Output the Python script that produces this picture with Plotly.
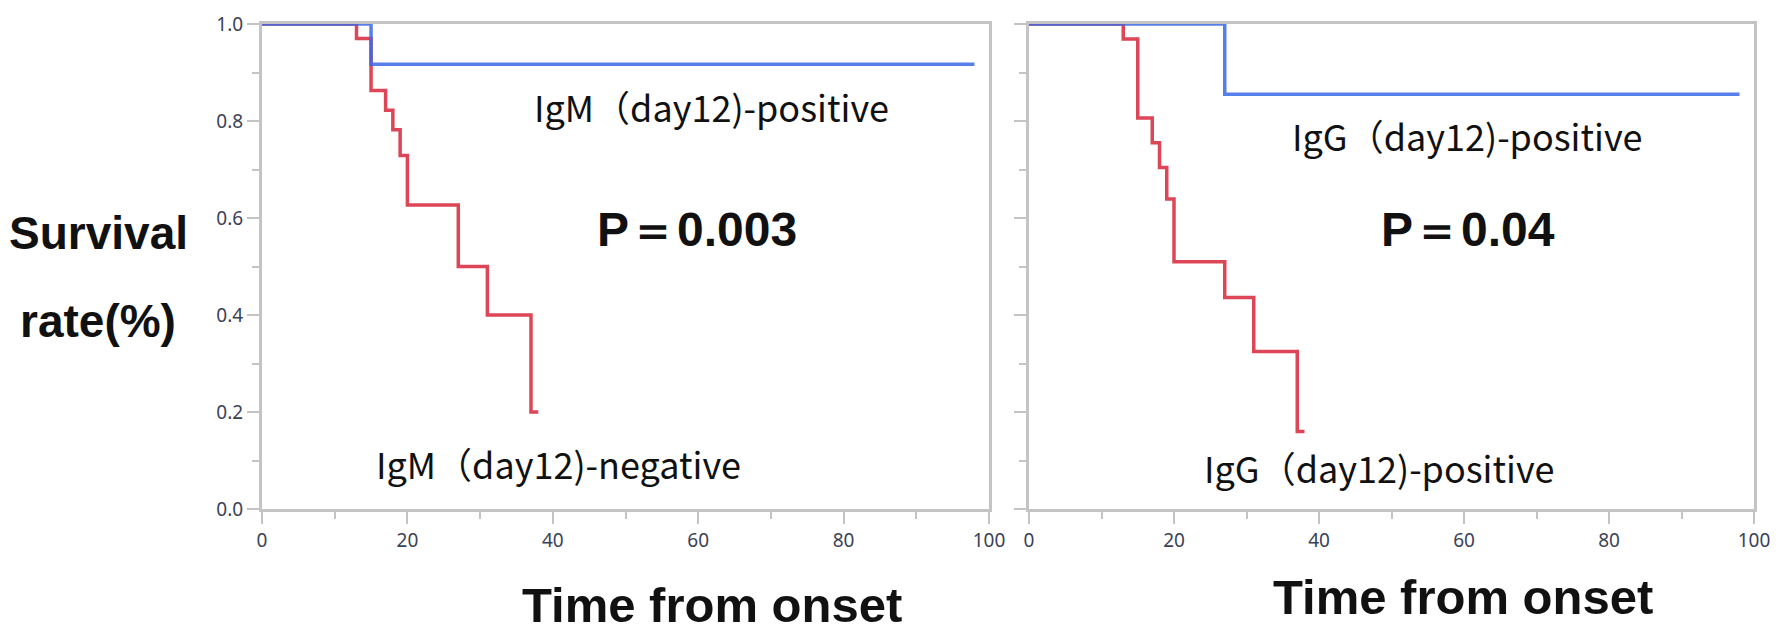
import plotly.graph_objects as go

W, H = 1782, 640
PAD = 8  # browser default body margin

# ---- data ----
igm_pos_t = [0, 15, 98]
igm_pos_s = [1.0, 0.917, 0.917]
igm_neg_t = [0, 13, 15, 17, 18, 19, 20, 27, 31, 37, 38]
igm_neg_s = [1.0, 0.970, 0.863, 0.822, 0.782, 0.729, 0.627, 0.500, 0.400, 0.200, 0.200]

igg_pos_t = [0, 27, 98]
igg_pos_s = [1.0, 0.855, 0.855]
igg_neg_t = [0, 13, 15, 17, 18, 19, 20, 27, 31, 37, 38]
igg_neg_s = [1.0, 0.969, 0.806, 0.755, 0.704, 0.639, 0.510, 0.436, 0.325, 0.160, 0.160]

x_ticks = [0, 20, 40, 60, 80, 100]
y_ticks = [0.0, 0.2, 0.4, 0.6, 0.8, 1.0]
y_ticklabels = ["0.0", "0.2", "0.4", "0.6", "0.8", "1.0"]

BLUE = "rgba(58,104,230,0.85)"
RED = "#dc4656"

FW, FH = W - 2 * PAD, H - 2 * PAD

def px(x):
    return (x - PAD) / FW

def py(y):
    return 1 - (y - PAD) / FH

fig = go.Figure()

fig.add_trace(go.Scatter(x=igm_neg_t, y=igm_neg_s, mode="lines", line=dict(color=RED, width=3.5, shape="hv"),
                         xaxis="x", yaxis="y", showlegend=False))
fig.add_trace(go.Scatter(x=igm_pos_t, y=igm_pos_s, mode="lines", line=dict(color=BLUE, width=3.5, shape="hv"),
                         xaxis="x", yaxis="y", showlegend=False))
fig.add_trace(go.Scatter(x=igg_neg_t, y=igg_neg_s, mode="lines", line=dict(color=RED, width=3.5, shape="hv"),
                         xaxis="x2", yaxis="y2", showlegend=False))
fig.add_trace(go.Scatter(x=igg_pos_t, y=igg_pos_s, mode="lines", line=dict(color=BLUE, width=3.5, shape="hv"),
                         xaxis="x2", yaxis="y2", showlegend=False))

tickfont = dict(family="Noto Sans", size=19, color="#3a4258")
AXC = "#c4c4c4"

def xaxis(domain, anchor):
    return dict(domain=domain, anchor=anchor, range=[0, 100], tickvals=x_ticks,
                ticks="outside", ticklen=12, tickwidth=2, tickcolor=AXC,
                showline=True, linecolor=AXC, linewidth=3, mirror=True,
                showgrid=False, zeroline=False, tickfont=tickfont, automargin=False,
                ticklabeloverflow="allow",
                minor=dict(dtick=10, ticks="outside", ticklen=7, tickwidth=2, tickcolor=AXC))

def yaxis(domain, anchor, labels):
    return dict(domain=domain, anchor=anchor, range=[0, 1], tickvals=y_ticks, ticktext=y_ticklabels,
                showticklabels=labels,
                ticks="outside", ticklen=12, tickwidth=2, tickcolor=AXC,
                showline=True, linecolor=AXC, linewidth=3, mirror=True,
                showgrid=False, zeroline=False, tickfont=tickfont, automargin=False,
                ticklabeloverflow="allow",
                minor=dict(dtick=0.1, ticks="outside", ticklen=7, tickwidth=2, tickcolor=AXC))

ydom = [py(509), py(24)]
fig.update_layout(
    width=FW, height=FH,
    margin=dict(l=0, r=0, t=0, b=0, autoexpand=False),
    paper_bgcolor="white", plot_bgcolor="white",
    xaxis=xaxis([px(262), px(989)], "y"),
    yaxis=yaxis(ydom, "x", True),
    xaxis2=xaxis([px(1029), px(1754)], "y2"),
    yaxis2=yaxis(ydom, "x2", False),
)

lab_font = dict(family="Noto Sans CJK JP", size=36, color="#111111")
big_font = dict(family="Liberation Sans", size=48, color="#111111")
title_font = dict(family="Liberation Sans", size=46, color="#111111")
axis_title_font = dict(family="Liberation Sans", size=49, color="#111111")

annots = [
    ("IgM（day12)-positive", 711, 106, lab_font),
    ("IgM（day12)-negative", 558, 463, lab_font),
    ("IgG（day12)-positive", 1467, 135, lab_font),
    ("IgG（day12)-positive", 1379, 467, lab_font),
    ("<b>P＝0.003</b>", 697, 229, big_font),
    ("<b>P＝0.04</b>", 1468, 229, big_font),
    ("<b>Survival</b>", 98, 233, title_font),
    ("<b>rate(%)</b>", 98, 321, title_font),
    ("<b>Time from onset</b>", 712, 605, axis_title_font),
    ("<b>Time from onset</b>", 1463, 597, axis_title_font),
]
for text, x, y, f in annots:
    fig.add_annotation(text=text, x=px(x), y=py(y), xref="paper", yref="paper",
                       xanchor="center", yanchor="middle", showarrow=False, font=f)

fig.write_html("out.html")
